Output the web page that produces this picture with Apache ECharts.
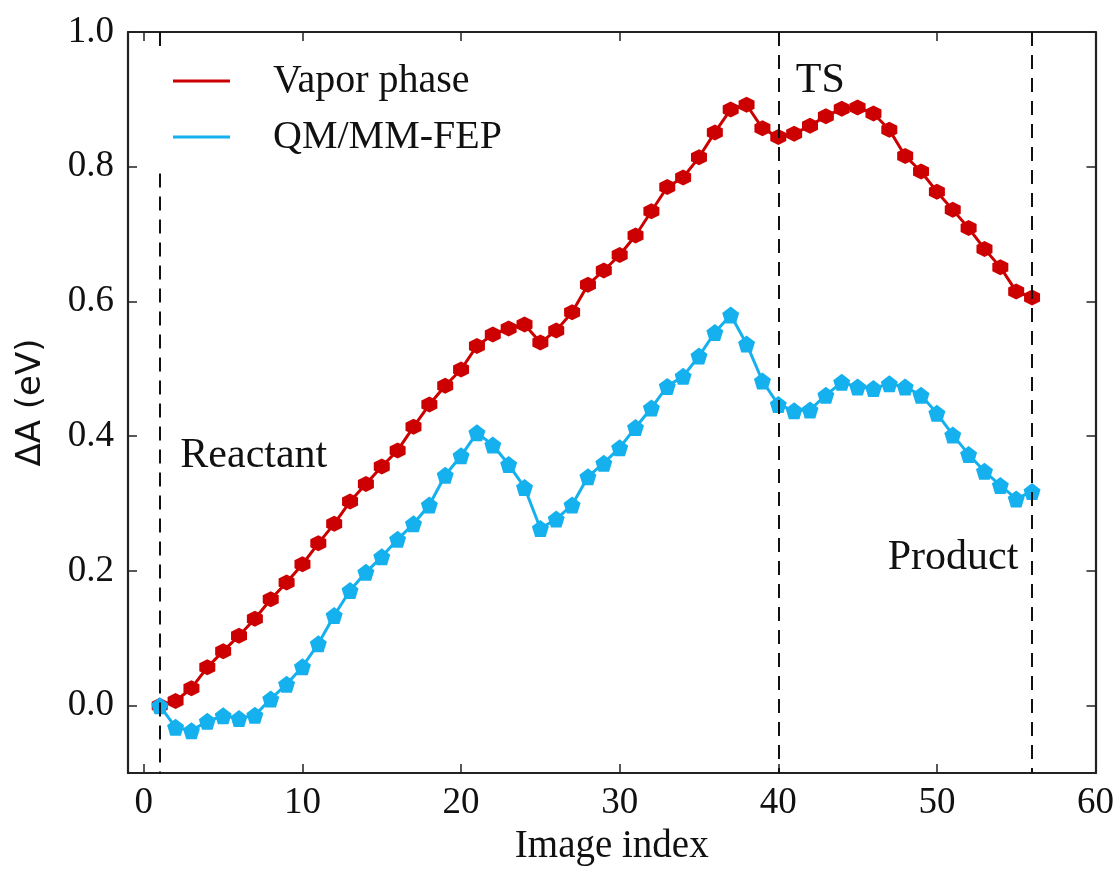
<!DOCTYPE html>
<html>
<head>
<meta charset="utf-8">
<script src="https://cdn.jsdelivr.net/npm/echarts@6/dist/echarts.min.js"></script>
<style>html,body{margin:0;padding:0;background:#fff}#c{width:1117px;height:871px}</style>
</head>
<body>
<div id="c"></div>
<script>
const imageIndex = [1,2,3,4,5,6,7,8,9,10,11,12,13,14,15,16,17,18,19,20,21,22,23,24,25,26,27,28,29,30,31,32,33,34,35,36,37,38,39,40,41,42,43,44,45,46,47,48,49,50,51,52,53,54,55,56];
const vaporPhase = [0.000,0.007,0.026,0.057,0.081,0.104,0.129,0.158,0.183,0.210,
  0.241,0.270,0.303,0.329,0.355,0.379,0.414,0.447,0.475,0.499,
  0.534,0.551,0.560,0.566,0.539,0.557,0.584,0.625,0.646,0.669,
  0.698,0.734,0.770,0.784,0.814,0.851,0.885,0.892,0.857,0.844,
  0.849,0.861,0.875,0.886,0.888,0.879,0.855,0.816,0.793,0.763,
  0.736,0.709,0.678,0.651,0.615,0.606];
const qmmmFep = [0.000,-0.032,-0.037,-0.023,-0.015,-0.019,-0.014,0.010,0.032,0.058,
  0.092,0.134,0.171,0.198,0.221,0.247,0.270,0.298,0.342,0.371,
  0.405,0.387,0.358,0.324,0.263,0.277,0.298,0.340,0.360,0.383,
  0.413,0.442,0.474,0.489,0.519,0.554,0.580,0.537,0.482,0.447,
  0.438,0.439,0.461,0.480,0.473,0.471,0.478,0.473,0.461,0.434,
  0.402,0.373,0.348,0.327,0.307,0.318];
const xTicks = [0,10,20,30,40,50,60];
const yTicks = [0,0.2,0.4,0.6,0.8,1.0];
// vertical dashed stage markers: [x, yFrom, yTo]
const stageSegments = [
  [1, 1.0, 0.977],
  [1, 0.790, -0.1],
  [40, 1.0, -0.1],
  [56, 1.0, -0.1]
];
const annotations = [
  {text:'Reactant', x:2.3, y:0.370},
  {text:'TS', x:41.1, y:0.927},
  {text:'Product', x:46.9, y:0.219}
];
const seriesNames = ['Vapor phase','QM/MM-FEP'];

const SERIF = '"Liberation Serif","Times New Roman",serif';
const hexagon = 'path://M0,-1L0.866,-0.5L0.866,0.5L0,1L-0.866,0.5L-0.866,-0.5Z';
const pentagon = 'path://M0,-1L0.951,-0.309L0.588,0.809L-0.588,0.809L-0.951,-0.309Z';
const RED = '#cc0000', BLUE = '#15b0ee', AX = '#222';

const pairs = arr => imageIndex.map((x,i)=>[x,arr[i]]);

const baseX = {
  type:'value', min:-1, max:60,
  axisLine:{show:true, onZero:false, lineStyle:{color:AX, width:2.2}},
  axisTick:{show:true, inside:true, length:9, customValues:xTicks, lineStyle:{color:AX, width:1.5}},
  splitLine:{show:false}
};
const baseY = {
  type:'value', min:-0.1, max:1.0,
  axisLine:{show:true, onZero:false, lineStyle:{color:AX, width:2.2}},
  axisTick:{show:true, inside:true, length:9, customValues:yTicks, lineStyle:{color:AX, width:1.5}},
  splitLine:{show:false}
};

const chart = echarts.init(document.getElementById('c'));
chart.setOption({
  animation:false,
  backgroundColor:'#fff',
  grid:{left:128, right:21, top:32, bottom:93, containLabel:false},
  xAxis:[
    Object.assign({}, baseX, {
      position:'bottom',
      name:'Image index', nameLocation:'middle', nameGap:53,
      nameTextStyle:{fontFamily:SERIF, fontSize:39, color:'#111'},
      axisLabel:{show:true, customValues:xTicks, margin:12, fontFamily:SERIF, fontSize:37, color:'#111'}
    }),
    Object.assign({}, baseX, {position:'top', axisLabel:{show:false}})
  ],
  yAxis:[
    Object.assign({}, baseY, {
      position:'left',
      name:'\u0394A (eV)', nameLocation:'middle', nameGap:80, nameRotate:90,
      nameTextStyle:{fontFamily:'"DejaVu Sans",sans-serif', fontSize:34, color:'#111'},
      axisLabel:{show:true, customValues:yTicks, margin:14, fontFamily:SERIF, fontSize:37, color:'#111',
        formatter:v=>v.toFixed(1)}
    }),
    Object.assign({}, baseY, {position:'right', axisLabel:{show:false}})
  ],
  legend:{
    data:seriesNames, orient:'vertical', left:153, top:44,
    padding:[17,20,23,20], itemGap:16,
    icon:'rect', itemWidth:57, itemHeight:3,
    textStyle:{fontFamily:SERIF, fontSize:40, color:'#111', lineHeight:30, padding:[0,0,0,38]}
  },
  series:[
    {
      name:'stages', type:'line', data:[], silent:true,
      markLine:{
        silent:true, symbol:['none','none'], label:{show:false},
        lineStyle:{color:'#111', width:2, type:[14,9]},
        data:stageSegments.map(s=>[{coord:[s[0],s[1]]},{coord:[s[0],s[2]]}])
      },
      markPoint:{
        silent:true, symbol:'circle', symbolSize:0,
        label:{show:true, position:'right', distance:0, fontFamily:SERIF, fontSize:42, color:'#111',
          formatter:p=>p.name},
        data:annotations.map(a=>({name:a.text, coord:[a.x,a.y]}))
      }
    },
    {
      name:seriesNames[0], type:'line', data:pairs(vaporPhase),
      symbol:hexagon, symbolSize:16, showAllSymbol:true,
      lineStyle:{color:RED, width:3}, itemStyle:{color:RED}, z:3
    },
    {
      name:seriesNames[1], type:'line', data:pairs(qmmmFep),
      symbol:pentagon, symbolSize:17, showAllSymbol:true,
      lineStyle:{color:BLUE, width:3}, itemStyle:{color:BLUE}, z:3
    }
  ]
});
</script>
</body>
</html>
